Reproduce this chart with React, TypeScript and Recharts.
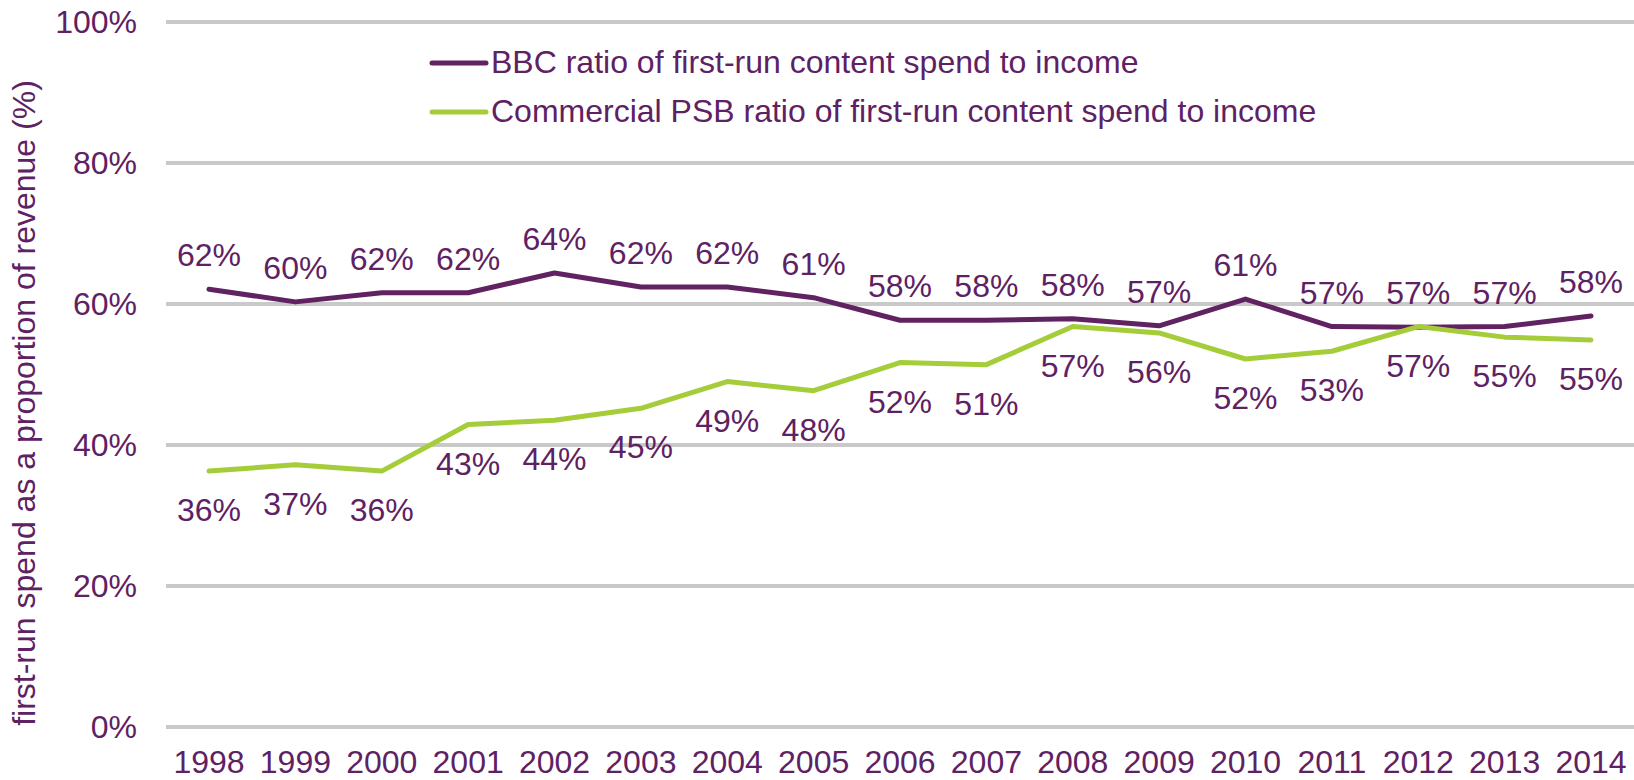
import { LineChart, Line, XAxis, YAxis, CartesianGrid, Legend } from "recharts";

const years = [
  "1998", "1999", "2000", "2001", "2002", "2003", "2004", "2005", "2006",
  "2007", "2008", "2009", "2010", "2011", "2012", "2013", "2014",
];
const bbcRatio = [
  62.1, 60.3, 61.6, 61.6, 64.4, 62.4, 62.4, 60.9, 57.7, 57.7, 57.9, 56.9,
  60.7, 56.8, 56.7, 56.8, 58.3,
];
const commercialRatio = [
  36.3, 37.2, 36.3, 42.9, 43.5, 45.2, 49.0, 47.7, 51.7, 51.4, 56.8, 55.9,
  52.2, 53.3, 56.8, 55.3, 54.9,
];
const yTicks = [0, 20, 40, 60, 80, 100];

const BBC_COLOR = "#612262";
const PSB_COLOR = "#A5CD39";
const TEXT_COLOR = "#5E2163";
const FONT = "'Liberation Sans', Arial, sans-serif";

const data = years.map((year, i) => ({
  year,
  bbc: bbcRatio[i],
  commercial: commercialRatio[i],
}));

const pct = (v: number) => `${Math.round(v)}%`;

const labelAbove = (props: any) => (
  <text
    key={`a-${props.index}`}
    x={props.x}
    y={props.y - 23}
    textAnchor="middle"
    fontSize={32}
    fontFamily={FONT}
    fill={TEXT_COLOR}
  >
    {pct(props.value)}
  </text>
);

const labelBelow = (props: any) => (
  <text
    key={`b-${props.index}`}
    x={props.x}
    y={props.y + 50}
    textAnchor="middle"
    fontSize={32}
    fontFamily={FONT}
    fill={TEXT_COLOR}
  >
    {pct(props.value)}
  </text>
);

const yTitle = () => (
  <text
    x={35}
    y={403}
    transform="rotate(-90, 35, 403)"
    textAnchor="middle"
    fontSize={32}
    fontFamily={FONT}
    fill={TEXT_COLOR}
  >
    first-run spend as a proportion of revenue (%)
  </text>
);

const renderLegend = (props: any) => (
  <div style={{ fontFamily: FONT, fontSize: 32, color: TEXT_COLOR }}>
    {props.payload.map((entry: any) => (
      <div
        key={entry.value}
        style={{ display: "flex", alignItems: "center", height: 49, whiteSpace: "nowrap" }}
      >
        <svg width={60} height={10} style={{ marginRight: 2 }}>
          <line
            x1={3}
            y1={5}
            x2={57}
            y2={5}
            stroke={entry.color}
            strokeWidth={5}
            strokeLinecap="round"
          />
        </svg>
        <span>{entry.value}</span>
      </div>
    ))}
  </div>
);

export default function App() {
  return (
    <div style={{ position: "absolute", left: 0, top: 0, background: "#fff" }}>
      <LineChart
        width={1634}
        height={780}
        data={data}
        margin={{ top: 22, right: 0, bottom: 0, left: 0 }}
      >
        <CartesianGrid
          vertical={false}
          stroke="#C9C9C9"
          strokeWidth={4}
        />
        <XAxis
          dataKey="year"
          scale="point"
          padding={{ left: 43, right: 43 }}
          axisLine={false}
          tickLine={false}
          tickSize={0}
          tickMargin={23}
          height={53}
          interval={0}
          tick={{ fontSize: 32, fontFamily: FONT, fill: TEXT_COLOR }}
        />
        <YAxis
          domain={[0, 100]}
          ticks={yTicks}
          tickFormatter={(v: number) => `${v}%`}
          axisLine={false}
          tickLine={false}
          tickSize={0}
          tickMargin={29}
          width={166}
          tick={{ fontSize: 32, fontFamily: FONT, fill: TEXT_COLOR }}
          label={yTitle}
        />
        <Legend
          layout="vertical"
          align="center"
          verticalAlign="middle"
          content={renderLegend}
          wrapperStyle={{ top: 38, left: 429, width: "auto" }}
        />
        <Line
          type="linear"
          dataKey="bbc"
          name="BBC ratio of first-run content spend to income"
          stroke={BBC_COLOR}
          strokeWidth={5}
          strokeLinecap="round"
          strokeLinejoin="round"
          dot={false}
          activeDot={false}
          isAnimationActive={false}
          label={labelAbove}
        />
        <Line
          type="linear"
          dataKey="commercial"
          name="Commercial PSB ratio of first-run content spend to income"
          stroke={PSB_COLOR}
          strokeWidth={5}
          strokeLinecap="round"
          strokeLinejoin="round"
          dot={false}
          activeDot={false}
          isAnimationActive={false}
          label={labelBelow}
        />
      </LineChart>
    </div>
  );
}
